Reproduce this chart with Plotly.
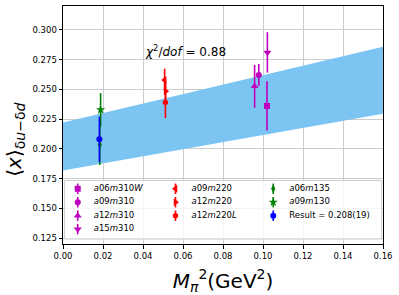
import plotly.graph_objects as go

# ---------------- data ----------------
labels = ["<i>a</i>06<i>m</i>310<i>W</i>", "<i>a</i>09<i>m</i>310", "<i>a</i>12<i>m</i>310",
          "<i>a</i>15<i>m</i>310", "<i>a</i>09<i>m</i>220", "<i>a</i>12<i>m</i>220",
          "<i>a</i>12<i>m</i>220<i>L</i>", "<i>a</i>06<i>m</i>135", "<i>a</i>09<i>m</i>130",
          "Result = 0.208(19)"]
mpi2 = [0.1020, 0.0979, 0.0958, 0.1022, 0.0508, 0.0513, 0.0512, 0.0184, 0.0188, 0.0182]
xmom = [0.2360, 0.2620, 0.2525, 0.2810, 0.2578, 0.2484, 0.2389, 0.2034, 0.2328, 0.2080]
xerr = [0.0207, 0.0093, 0.0180, 0.0170, 0.0095, 0.0090, 0.0130, 0.0170, 0.0140, 0.0190]
symbols = ["square", "circle", "triangle-up", "triangle-down", "triangle-left",
           "triangle-right", "hexagon", "diamond-tall", "star", "circle"]
colors = ["#bf00bf"] * 4 + ["#ff0000"] * 3 + ["#008000"] * 2 + ["#0000ff"]

band_x = [0.0, 0.16]
band_lo = [0.1818, 0.2295]
band_hi = [0.2220, 0.2857]

x_ticks = [0.00, 0.02, 0.04, 0.06, 0.08, 0.10, 0.12, 0.14, 0.16]
y_ticks = [0.125, 0.150, 0.175, 0.200, 0.225, 0.250, 0.275, 0.300]

fig = go.Figure()

# fit band
fig.add_trace(go.Scatter(x=band_x, y=band_lo, mode="lines", line=dict(width=0, color="#7cc4f2"),
                         hoverinfo="skip", showlegend=False))
fig.add_trace(go.Scatter(x=band_x, y=band_hi, mode="lines", line=dict(width=0, color="#7cc4f2"),
                         fill="tonexty", fillcolor="#7cc4f2", hoverinfo="skip", showlegend=False))


def msize(sym):
    return 7 if sym.startswith("triangle") or sym == "star" else 6


# data points
for i in range(len(labels)):
    fig.add_trace(go.Scatter(
        x=[mpi2[i]], y=[xmom[i]], mode="markers", showlegend=False,
        marker=dict(symbol=symbols[i], size=msize(symbols[i]), color=colors[i], line=dict(width=0)),
        error_y=dict(type="data", array=[xerr[i]], color=colors[i], thickness=1.6, width=0)))

# ---------------- legend (matplotlib style, ncol=3, column-major) ----------------
ncol = 3
n = len(labels)
base, extra = divmod(n, ncol)
col_sizes = [base + (1 if c < extra else 0) for c in range(ncol)]
cols, rows = [], []
for c, sz in enumerate(col_sizes):
    for r in range(sz):
        cols.append(c)
        rows.append(r)

box_l, box_r, box_b, box_t = 0.005, 0.996, 0.021, 0.267
col_x0, col_dx, txt_dx = 0.046, 0.3055, 0.050
row_y0, row_dy = 0.232, 0.0565

fig.add_trace(go.Scatter(x=[box_l, box_r, box_r, box_l, box_l], y=[box_b, box_b, box_t, box_t, box_b],
                         mode="lines", fill="toself", fillcolor="rgba(255,255,255,0.8)",
                         line=dict(color="#cccccc", width=1), xaxis="x2", yaxis="y2",
                         hoverinfo="skip", showlegend=False))
leg_x = [col_x0 + c * col_dx for c in cols]
leg_y = [row_y0 - r * row_dy for r in rows]
for i in range(n):
    fig.add_trace(go.Scatter(
        x=[leg_x[i]], y=[leg_y[i]], mode="markers", xaxis="x2", yaxis="y2", showlegend=False,
        marker=dict(symbol=symbols[i], size=msize(symbols[i]), color=colors[i], line=dict(width=0)),
        error_y=dict(type="data", array=[0.022], color=colors[i], thickness=1.6, width=0),
        hoverinfo="skip"))
fig.add_trace(go.Scatter(
    x=[v + txt_dx for v in leg_x], y=leg_y, mode="text", text=labels, textposition="middle right",
    textfont=dict(size=8.5, color="black", family="DejaVu Sans"),
    xaxis="x2", yaxis="y2", showlegend=False, hoverinfo="skip"))

# chi^2 text
fig.add_annotation(x=0.0399, y=0.2818, xref="x", yref="y",
                   text="<i>χ</i><sup>2</sup>/<i>dof</i> = 0.88", showarrow=False,
                   xanchor="left", yanchor="middle", font=dict(size=12, color="black"))

# y-axis title (as rotated annotation to place it like the reference)
fig.add_annotation(x=-0.15, y=0.438, xref="paper", yref="paper", textangle=-90,
                   text="⟨<i>x</i>⟩<sub>δ<i>u</i>−δ<i>d</i></sub>", showarrow=False,
                   xanchor="center", yanchor="middle", font=dict(size=20, color="black"))

axis_common = dict(showline=True, linecolor="black", linewidth=1, mirror=True,
                   ticks="outside", ticklen=3.5, tickwidth=1, tickcolor="black",
                   showgrid=True, gridcolor="#cccccc", gridwidth=1, zeroline=False,
                   automargin=False, tickfont=dict(size=8.5, color="black"))

fig.update_layout(
    width=399, height=295,
    margin=dict(l=63, r=16, t=6, b=51),
    plot_bgcolor="white", paper_bgcolor="white",
    showlegend=False,
    font=dict(family="DejaVu Sans", size=8.5, color="black"),
    xaxis=dict(range=[0, 0.16], tickvals=x_ticks, tickformat=".2f",
               title=dict(text="<i>M</i><sub><i>π</i></sub><sup>2</sup>(GeV<sup>2</sup>)",
                          font=dict(size=20), standoff=14),
               **axis_common),
    yaxis=dict(range=[0.12, 0.32], tickvals=y_ticks, tickformat=".3f", **axis_common),
    xaxis2=dict(overlaying="x", range=[0, 1], visible=False, fixedrange=True),
    yaxis2=dict(overlaying="y", range=[0, 1], visible=False, fixedrange=True),
)

fig.write_html("out.html", config={"displayModeBar": False},
               post_script="document.body.style.margin='0px';")
